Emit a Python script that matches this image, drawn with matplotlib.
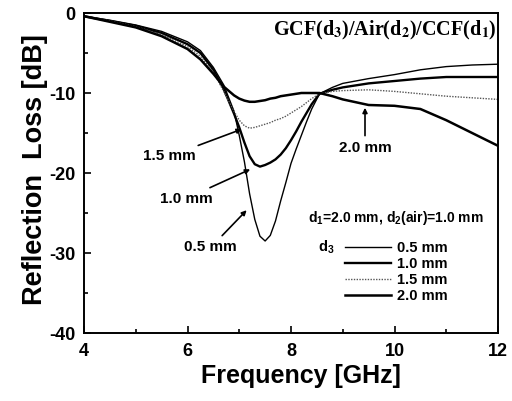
import matplotlib
matplotlib.use('Agg')
import matplotlib.pyplot as plt

# 周波数 [GHz] と各厚み d3 の反射損失 [dB]
freq = [4.0, 4.5, 5.0, 5.5, 6.0, 6.25, 6.5, 6.7, 6.9, 7.0, 7.1, 7.2, 7.3, 7.4, 7.5,
        7.6, 7.7, 7.8, 7.9, 8.0, 8.1, 8.2, 8.3, 8.4, 8.55, 8.8, 9.0, 9.5, 10.0,
        10.5, 11.0, 11.5, 12.0]
rl_05 = [-0.4, -0.9, -1.5, -2.3, -3.6, -4.7, -6.8, -9.0, -12.3, -15.3, -18.6, -22.6,
         -25.8, -27.9, -28.5, -27.8, -26.0, -23.5, -21.2, -18.8, -17.0, -15.3, -13.6,
         -12.0, -10.1, -9.3, -8.8, -8.2, -7.7, -7.1, -6.7, -6.5, -6.4]
rl_10 = [-0.4, -1.0, -1.6, -2.5, -3.9, -5.0, -7.1, -9.5, -12.6, -14.3, -16.2, -17.9,
         -18.9, -19.2, -19.0, -18.7, -18.3, -17.7, -16.9, -15.9, -14.8, -13.6, -12.5,
         -11.4, -10.1, -9.6, -9.3, -8.8, -8.5, -8.2, -8.0, -8.0, -8.0]
rl_15 = [-0.4, -1.0, -1.7, -2.7, -4.2, -5.4, -7.4, -9.8, -12.3, -13.4, -14.1, -14.4,
         -14.3, -14.1, -13.9, -13.7, -13.4, -13.2, -12.9, -12.5, -12.1, -11.7, -11.2,
         -10.7, -10.1, -9.8, -9.7, -9.6, -9.8, -10.1, -10.4, -10.6, -10.8]
rl_20 = [-0.4, -1.1, -1.8, -2.9, -4.5, -5.8, -7.6, -9.2, -10.3, -10.7, -10.95, -11.1,
         -11.1, -11.0, -10.9, -10.7, -10.6, -10.4, -10.3, -10.2, -10.1, -10.0, -10.0,
         -10.0, -10.0, -10.4, -10.8, -11.5, -11.6, -12.0, -13.4, -15.0, -16.6]
labels = ['0.5 mm', '1.0 mm', '1.5 mm', '2.0 mm']

plt.rcParams['font.family'] = ['Liberation Sans', 'DejaVu Sans']
plt.rcParams['font.weight'] = 'bold'
plt.rcParams['axes.unicode_minus'] = False
plt.rcParams['mathtext.fontset'] = 'custom'
plt.rcParams['mathtext.rm'] = 'Liberation Sans:bold'

fig = plt.figure(figsize=(5.12, 4.01), dpi=100)
ax = fig.add_axes([84 / 512, 1 - 333 / 401, 414 / 512, 320 / 401])

l1, = ax.plot(freq, rl_05, color='black', lw=1.0)
l2, = ax.plot(freq, rl_10, color='black', lw=1.7)
l3, = ax.plot(freq, rl_15, color='#555555', lw=1.0, ls=(0, (1, 1)))
l4, = ax.plot(freq, rl_20, color='black', lw=1.8)

ax.set_xlim(4, 12)
ax.set_ylim(-40, 0)
ax.set_xticks([4, 6, 8, 10, 12])
ax.set_xticks([5, 7, 9, 11], minor=True)
ax.set_yticks([-40, -30, -20, -10, 0])
ax.set_yticks([-35, -25, -15, -5], minor=True)
ax.tick_params(which='both', direction='in', width=1.2, top=False, right=False)
ax.tick_params(which='major', length=5, labelsize=13)
ax.tick_params(axis='x', which='major', pad=7)
ax.tick_params(axis='y', which='major', pad=6)
ax.tick_params(which='minor', length=3)
for s in ax.spines.values():
    s.set_linewidth(1.4)

ax.set_xlabel('Frequency [GHz]', fontsize=18, fontweight='bold', labelpad=3, x=0.525)
ax.set_ylabel('Reflection  Loss [dB]', fontsize=19.5, fontweight='bold', labelpad=1, y=0.51)

# 右上のタイトル
ax.text(0.998, 0.945, 'GCF(d$_{3}$)/Air(d$_{2}$)/CCF(d$_{1}$)', transform=ax.transAxes,
        ha='right', va='center', fontsize=14.5, fontweight='bold',
        family='Liberation Serif', math_fontfamily='stix')

# 矢印付きラベル
arrow = dict(arrowstyle='-|>', color='black', lw=1.2, mutation_scale=7)
ax.annotate('1.5 mm', xy=(7.1, -14.4), xytext=(5.65, -17.9), ha='center', va='center',
            fontsize=11, fontweight='bold', arrowprops=arrow)
ax.annotate('1.0 mm', xy=(7.26, -19.4), xytext=(5.97, -23.2), ha='center', va='center',
            fontsize=11, fontweight='bold', arrowprops=arrow)
ax.annotate('0.5 mm', xy=(7.18, -24.4), xytext=(6.45, -29.3), ha='center', va='center',
            fontsize=11, fontweight='bold', arrowprops=arrow)
ax.annotate('2.0 mm', xy=(9.43, -11.5), xytext=(9.43, -16.9), ha='center', va='center',
            fontsize=11, fontweight='bold', arrowprops=arrow)

ax.text(8.32, -25.6, 'd$_{1}$=2.0 mm, d$_{2}$(air)=1.0 mm', fontsize=10,
        fontweight='bold', va='center', ha='left')
ax.text(8.52, -29.3, 'd$_{3}$', fontsize=10.5, fontweight='bold', va='center', ha='left')

ax.legend([l1, l2, l3, l4], labels, loc='upper left', bbox_to_anchor=(0.63, 0.287),
          frameon=False, handlelength=3.2, handletextpad=0.4, labelspacing=0.13,
          borderpad=0, borderaxespad=0, prop={'size': 10.5, 'weight': 'bold'})

fig.savefig('out.png', dpi=100)
